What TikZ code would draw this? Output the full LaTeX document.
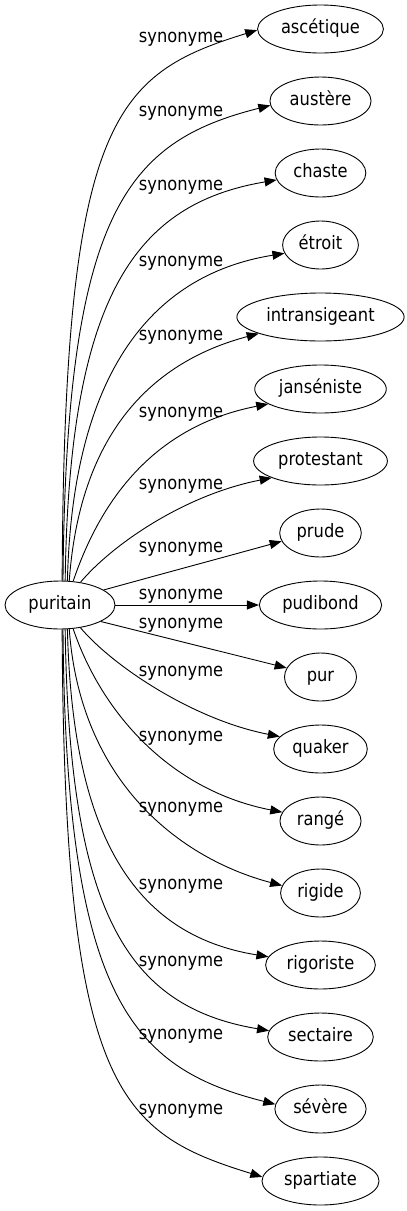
\documentclass[tikz,border=0pt]{standalone}
\usepackage{fontspec}
\setmainfont{DejaVu Sans}[FakeStretch=0.88]
\usetikzlibrary{arrows.meta,shapes.geometric}

\tikzset{
  word/.style={draw, ellipse, line width=0.9pt, minimum width=72pt, minimum height=48pt,
    inner xsep=5pt, inner ysep=2pt, text height=13pt, text depth=4pt},
  syn/.style={-{Triangle[length=12pt,width=9pt]}, line width=0.9pt},
  lbl/.style={anchor=base, inner sep=0pt}
}

\begin{document}
\begin{tikzpicture}[x=1pt,y=1pt,font=\fontsize{18.5}{22}\selectfont]
\useasboundingbox (0,0) rectangle (407,-1211);
\node[word, minimum width=110pt] (puritain) at (60,-605) {puritain};
\foreach \n/\t [count=\i from 0] in {ascetique/ascétique, austere/austère, chaste/chaste,
    etroit/étroit, intransigeant/intransigeant, janseniste/janséniste, protestant/protestant,
    prude/prude, pudibond/pudibond, pur/pur, quaker/quaker, range/rangé, rigide/rigide,
    rigoriste/rigoriste, sectaire/sectaire, severe/sévère, spartiate/spartiate}
  \node[word] (\n) at (320.5,-29-72*\i) {\t};

% above
\draw[syn] (puritain.85) .. controls +(2,462) and +(-143,-44) .. (ascetique.181) node[lbl] (s1) at (181,-42.5) {synonyme};
\draw[syn] (puritain.83) .. controls +(3,370) and +(-143,-36) .. (austere.185) node[lbl] (s2) at (181,-116) {synonyme};
\draw[syn] (puritain.78) .. controls +(4,282) and +(-143,-24) .. (chaste.189) node[lbl] (s3) at (181,-190) {synonyme};
\draw[syn] (puritain.73) .. controls +(5,202) and +(-137,-22) .. (etroit.193) node[lbl] (s4) at (181,-266) {synonyme};
\draw[syn] (puritain.69) .. controls +(11,153) and +(-102,-27) .. (intransigeant.195) node[lbl] (s5) at (181,-340.5) {synonyme};
\draw[syn] (puritain.61) .. controls +(28,83) and +(-113,-22) .. (janseniste.196) node[lbl] (s6) at (181,-417.5) {synonyme};
\draw[syn] (puritain.48) .. controls +(32,38) and +(-87,-17) .. (protestant.199) node[lbl] (s7) at (181,-489.5) {synonyme};
\draw[syn] (puritain.19) .. controls +(58,16) and +(-58,-16) .. (prude.192) node[lbl] (s8) at (181,-552.5) {synonyme};
\draw[syn] (puritain) -- (pudibond) node[lbl] (s9) at (181,-599.5) {synonyme};
% below
\draw[syn] (puritain.338) .. controls +(60,-15) and +(-60,15) .. (pur.165) node[lbl] (s10) at (181,-628) {synonyme};
\draw[syn] (puritain.312) .. controls +(32,-38) and +(-87,17) .. (quaker.163) node[lbl] (s11) at (181,-676) {synonyme};
\draw[syn] (puritain.299) .. controls +(28,-83) and +(-113,22) .. (range.167) node[lbl] (s12) at (181,-741) {synonyme};
\draw[syn] (puritain.291) .. controls +(11,-153) and +(-102,27) .. (rigide.169) node[lbl] (s13) at (181,-812.5) {synonyme};
\draw[syn] (puritain.287) .. controls +(5,-202) and +(-137,22) .. (rigoriste.171) node[lbl] (s14) at (181,-889.5) {synonyme};
\draw[syn] (puritain.282) .. controls +(4,-282) and +(-143,24) .. (sectaire.173) node[lbl] (s15) at (181,-966) {synonyme};
\draw[syn] (puritain.277) .. controls +(3,-370) and +(-143,36) .. (severe.174) node[lbl] (s16) at (181,-1039.5) {synonyme};
\draw[syn] (puritain.275) .. controls +(2,-462) and +(-143,44) .. (spartiate.176) node[lbl] (s17) at (181,-1114) {synonyme};
\end{tikzpicture}
\end{document}
